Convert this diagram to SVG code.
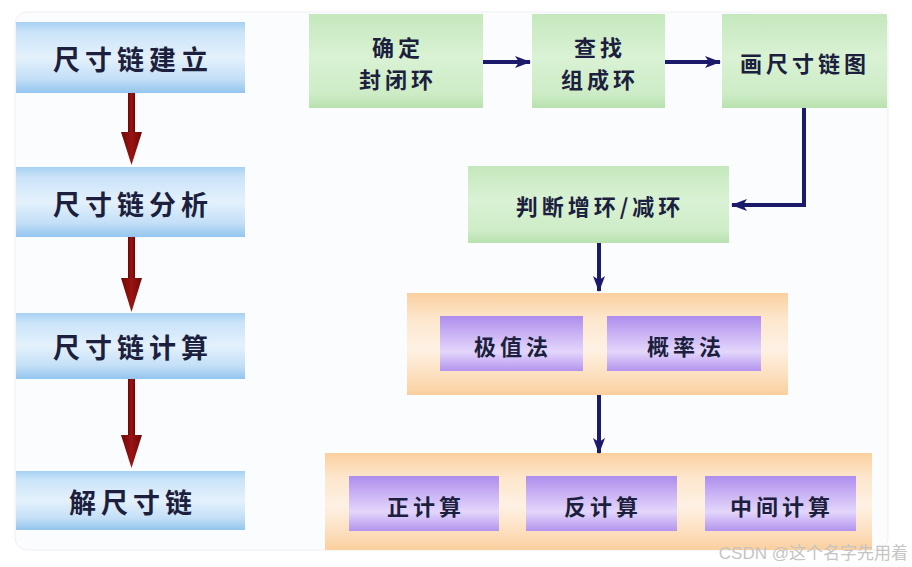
<svg xmlns="http://www.w3.org/2000/svg" width="912" height="567" viewBox="0 0 912 567">
  <defs>
    <linearGradient id="gBlue" x1="0" y1="0" x2="0" y2="1">
      <stop offset="0" stop-color="#a6d1f3"/>
      <stop offset="0.15" stop-color="#cbe4f9"/>
      <stop offset="0.5" stop-color="#e4f1fc"/>
      <stop offset="0.8" stop-color="#c3dff7"/>
      <stop offset="1" stop-color="#93c5ee"/>
    </linearGradient>
    <linearGradient id="gGreen" x1="0" y1="0" x2="0" y2="1">
      <stop offset="0" stop-color="#c4e8bd"/>
      <stop offset="0.45" stop-color="#d9f2d4"/>
      <stop offset="0.85" stop-color="#cdecc6"/>
      <stop offset="1" stop-color="#b8e1ae"/>
    </linearGradient>
    <linearGradient id="gOrange" x1="0" y1="0" x2="0" y2="1">
      <stop offset="0" stop-color="#fbd09f"/>
      <stop offset="0.25" stop-color="#fde6cc"/>
      <stop offset="0.55" stop-color="#fef1e4"/>
      <stop offset="0.85" stop-color="#fcdcb8"/>
      <stop offset="1" stop-color="#fbcf9d"/>
    </linearGradient>
    <linearGradient id="gPurple" x1="0" y1="0" x2="0" y2="1">
      <stop offset="0" stop-color="#ad8ded"/>
      <stop offset="0.3" stop-color="#c8b0f4"/>
      <stop offset="0.65" stop-color="#e3d6fb"/>
      <stop offset="1" stop-color="#b394ee"/>
    </linearGradient>
    <linearGradient id="gRed" x1="0" y1="0" x2="1" y2="0">
      <stop offset="0" stop-color="#6e0707"/>
      <stop offset="0.5" stop-color="#9a1414"/>
      <stop offset="1" stop-color="#6e0707"/>
    </linearGradient>
    <marker id="navyHead" markerWidth="10" markerHeight="10" refX="9" refY="5" orient="auto" markerUnits="userSpaceOnUse" viewBox="0 0 10 10">
      <path d="M0,1 L10,5 L0,9 L2,5 Z" fill="#1c1b6b"/>
    </marker>
    <marker id="navyHeadL" markerWidth="16" markerHeight="14" refX="15" refY="7" orient="auto" markerUnits="userSpaceOnUse" viewBox="0 0 16 14">
      <path d="M0,1 L16,7 L0,13 L4,7 Z" fill="#1c1b6b"/>
    </marker>
  </defs>
  <style>
    .bl { fill: url(#gBlue); }
    .gr { fill: url(#gGreen); }
    .or { fill: url(#gOrange); }
    .pu { fill: url(#gPurple); }
    .t { font-family: "Noto Sans CJK SC", "Noto Sans", sans-serif; font-weight: bold; fill: #1c1f3e; text-anchor: middle; dominant-baseline: central; }
    .big { font-size: 27px; letter-spacing: 5px; }
    .mid { font-size: 22px; letter-spacing: 4px; }
    .navy { stroke: #1c1b6b; stroke-width: 4; fill: none; }
    .red { fill: url(#gRed); }
    .wm { font-family: "Liberation Sans", "Noto Sans CJK SC", sans-serif; font-size: 17px; fill: #c4c4c4; text-anchor: end; }
  </style>

  <rect x="0" y="0" width="912" height="567" fill="#ffffff"/>
  <rect x="15" y="12" width="873" height="538" rx="12" fill="#fbfcfe" stroke="#eeeff2" stroke-width="1"/>

  <!-- Left column -->
  <g id="n-build">
    <rect class="bl" x="16" y="22" width="229" height="71"/>
    <text class="t big" x="133" y="58">尺寸链建立</text>
  </g>
  <g id="n-analyze">
    <rect class="bl" x="16" y="167" width="229" height="70"/>
    <text class="t big" x="133" y="203">尺寸链分析</text>
  </g>
  <g id="n-calc">
    <rect class="bl" x="16" y="313" width="229" height="66"/>
    <text class="t big" x="133" y="346">尺寸链计算</text>
  </g>
  <g id="n-solve">
    <rect class="bl" x="16" y="471" width="229" height="59"/>
    <text class="t big" x="133" y="501">解尺寸链</text>
  </g>

  <!-- Right flow -->
  <g id="n-closed">
    <rect class="gr" x="309" y="14" width="174" height="94"/>
    <text class="t mid" x="398" y="46">确定</text>
    <text class="t mid" x="398" y="78">封闭环</text>
  </g>
  <g id="n-find">
    <rect class="gr" x="532" y="14" width="133" height="94"/>
    <text class="t mid" x="600" y="46">查找</text>
    <text class="t mid" x="600" y="78">组成环</text>
  </g>
  <g id="n-draw">
    <rect class="gr" x="722" y="14" width="165" height="94"/>
    <text class="t mid" x="805" y="62">画尺寸链图</text>
  </g>
  <g id="n-judge">
    <rect class="gr" x="468" y="166" width="261" height="77"/>
    <text class="t mid" x="600" y="205">判断增环/减环</text>
  </g>
  <g id="n-methods">
    <rect class="or" x="407" y="293" width="381" height="102"/>
    <g id="n-extreme">
      <rect class="pu" x="440" y="316" width="143" height="55"/>
      <text class="t mid" x="513" y="345">极值法</text>
    </g>
    <g id="n-prob">
      <rect class="pu" x="607" y="316" width="154" height="55"/>
      <text class="t mid" x="686" y="345">概率法</text>
    </g>
  </g>
  <g id="n-types">
    <rect class="or" x="325" y="453" width="547" height="97"/>
    <g id="n-forward">
      <rect class="pu" x="349" y="476" width="150" height="55"/>
      <text class="t mid" x="426" y="505">正计算</text>
    </g>
    <g id="n-reverse">
      <rect class="pu" x="526" y="476" width="151" height="55"/>
      <text class="t mid" x="603" y="505">反计算</text>
    </g>
    <g id="n-middle">
      <rect class="pu" x="705" y="476" width="151" height="55"/>
      <text class="t mid" x="782" y="505">中间计算</text>
    </g>
  </g>

  <!-- Connectors -->
  <g id="connectors">
    <rect class="red" x="128" y="93" width="7" height="41"/>
    <path class="red" d="M121,132 L142,132 L131.5,165 Z"/>
    <rect class="red" x="128" y="237" width="7" height="43"/>
    <path class="red" d="M121,278 L142,278 L131.5,312 Z"/>
    <rect class="red" x="128" y="379" width="7" height="58"/>
    <path class="red" d="M121,435 L142,435 L131.5,468 Z"/>

    <line class="navy" x1="483" y1="62" x2="530" y2="62" marker-end="url(#navyHeadL)"/>
    <line class="navy" x1="665" y1="62" x2="720" y2="62" marker-end="url(#navyHeadL)"/>
    <polyline class="navy" points="804,108 804,205 732,205" marker-end="url(#navyHeadL)"/>
    <line class="navy" x1="599" y1="243" x2="599" y2="291" marker-end="url(#navyHeadL)"/>
    <line class="navy" x1="599" y1="395" x2="599" y2="453" marker-end="url(#navyHeadL)"/>
  </g>

  <text class="wm" x="908" y="559">CSDN @这个名字先用着</text>
</svg>
